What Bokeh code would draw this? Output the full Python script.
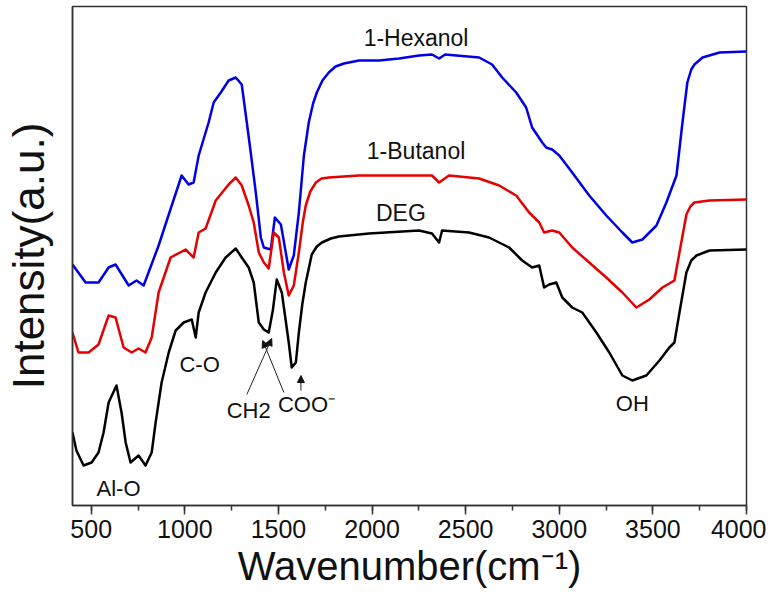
from bokeh.plotting import figure
from bokeh.models import Range1d, SingleIntervalTicker, FixedTicker, Arrow, NormalHead
from bokeh.core.properties import value
from bokeh.embed import file_html
from bokeh.resources import INLINE

# ---- data (wavenumber in cm^-1, intensity in arbitrary units) ----
hex_w = [400, 470, 539, 593, 630, 700, 742, 780, 860, 930, 983, 1020, 1047, 1074, 1127, 1154,
         1192, 1234, 1272, 1304, 1331, 1352, 1379, 1406, 1422, 1459, 1481, 1513, 1555, 1582,
         1609, 1636, 1662, 1685, 1705, 1735, 1769, 1805, 1850, 1930, 2037, 2144, 2251, 2320,
         2358, 2390, 2572, 2641, 2695, 2770, 2823, 2855, 2909, 2930, 2962, 3000, 3069, 3160,
         3251, 3337, 3390, 3444, 3519, 3572, 3626, 3658, 3684, 3705, 3722, 3765, 3856, 4000]
hex_i = [241, 223, 223, 238, 241, 220, 225, 220, 260, 300, 330, 321, 323, 350, 383, 403,
         413, 425, 428, 421, 383, 353, 313, 268, 258, 256, 288, 281, 236, 250,
         293, 350, 383, 402, 413, 425, 433, 439, 442, 445, 445, 447, 450, 451,
         447, 451, 448, 441, 428, 413, 398, 378, 363, 358, 356, 350, 333, 310,
         290, 273, 263, 266, 280, 303, 330, 383, 423, 436, 441, 448, 453, 454]

but_w = [400, 432, 486, 539, 593, 630, 673, 716, 753, 790, 823, 860, 924, 1004, 1047, 1074,
         1111, 1165, 1234, 1272, 1304, 1341, 1368, 1395, 1422, 1448, 1475, 1502, 1529, 1555,
         1582, 1609, 1630, 1646, 1670, 1700, 1730, 1769, 1850, 1930, 2251, 2320, 2358, 2411,
         2572, 2679, 2770, 2839, 2893, 2919, 2962, 3000, 3069, 3160, 3251, 3337, 3412, 3481,
         3551, 3615, 3642, 3679, 3700, 3722, 3802, 4000]
but_i = [173, 153, 153, 161, 190, 188, 158, 153, 157, 153, 168, 213, 248, 256, 248, 273,
         277, 305, 321, 328, 320, 300, 283, 253, 243, 237, 273, 268, 233, 210,
         220, 253, 283, 300, 314, 323, 327, 328, 329, 330, 330, 330, 323, 330,
         327, 320, 310, 293, 283, 273, 275, 273, 258, 243, 228, 213, 198, 206,
         218, 225, 253, 291, 299, 303, 305, 306]

deg_w = [400, 421, 459, 502, 539, 566, 593, 635, 662, 684, 710, 753, 790, 823, 844, 876,
         914, 951, 994, 1037, 1058, 1074, 1111, 1165, 1218, 1272, 1304, 1341, 1368, 1395,
         1422, 1448, 1470, 1491, 1518, 1555, 1571, 1593, 1609, 1628, 1646, 1678, 1705, 1732,
         1780, 1823, 1983, 2251, 2320, 2358, 2374, 2518, 2625, 2732, 2802, 2855, 2893, 2919,
         2946, 2984, 3016, 3069, 3123, 3198, 3267, 3337, 3390, 3465, 3535, 3588, 3615, 3642,
         3679, 3705, 3733, 3802, 4000]
deg_i = [73, 55, 40, 43, 53, 73, 103, 120, 93, 63, 43, 50, 40, 53, 83, 123,
         153, 175, 183, 186, 168, 193, 213, 233, 248, 257, 248, 238, 223, 183,
         176, 173, 195, 226, 213, 163, 138, 143, 173, 202, 223, 251, 259, 263,
         267, 269, 272, 275, 272, 263, 275, 273, 268, 258, 245, 238, 240, 218,
         221, 223, 208, 198, 193, 173, 153, 130, 125, 130, 145, 158, 163, 193,
         233, 245, 250, 255, 256]

# series labels and band annotations
series_names = ["1-Hexanol", "1-Butanol", "DEG"]
series_colors = ["#0000e6", "#e60000", "#000000"]
name_x = [2235, 2235, 2154]
name_y = [468, 355, 293]

band_text = ["C-O", "Al-O", "CH2", "COO\u207b", "OH"]
band_x = [1079, 646, 1341, 1650, 3390]
band_y = [141, 17, 95, 101, 102]

FONT = "Liberation Sans"

p = figure(frame_width=674, frame_height=499, min_border_left=65, min_border_top=6,
           min_border_right=20, min_border_bottom=86,
           x_range=Range1d(400, 4000), y_range=Range1d(0, 499),
           output_backend="svg", toolbar_location=None)

for w, i, c in zip([hex_w, but_w, deg_w], [hex_i, but_i, deg_i], series_colors):
    p.line(w, i, line_color=c, line_width=2.5, line_join="round")

p.text(x=name_x, y=name_y, text=series_names, text_align="center", text_baseline="middle",
       text_font=value(FONT), text_font_size="23px", text_color="#111111")
p.text(x=band_x, y=band_y, text=band_text, text_align="center", text_baseline="middle",
       text_font=value(FONT), text_font_size="22px", text_color="#111111")

# annotation arrows
for (x0, y0, x1, y1) in [(1331, 111, 1464, 167), (1529, 113, 1416, 165), (1620, 115, 1620, 130)]:
    p.add_layout(Arrow(x_start=x0, y_start=y0, x_end=x1, y_end=y1, line_width=1,
                       line_color="#222222",
                       end=NormalHead(size=7, fill_color="#111111", line_color="#111111")))

# axes
p.grid.visible = False
p.outline_line_color = "#333333"
p.outline_line_width = 1.5

xa = p.xaxis[0]
xa.ticker = SingleIntervalTicker(interval=500, num_minor_ticks=2)
xa.axis_label = "Wavenumber(cm\u207b\u00b9)"
xa.axis_label_text_font = FONT
xa.axis_label_text_font_size = "40px"
xa.axis_label_text_font_style = "normal"
xa.axis_label_text_color = "#111111"
xa.axis_label_standoff = 3
xa.major_label_text_font = FONT
xa.major_label_text_font_size = "25px"
xa.major_label_text_color = "#111111"
xa.major_label_standoff = 5
xa.major_tick_in = 0
xa.major_tick_out = 9
xa.minor_tick_in = 0
xa.minor_tick_out = 5
xa.axis_line_width = 1.5
xa.major_tick_line_width = 1.5
xa.minor_tick_line_width = 1.5
xa.axis_line_color = "#333333"
xa.major_tick_line_color = "#333333"
xa.minor_tick_line_color = "#333333"

ya = p.yaxis[0]
ya.ticker = FixedTicker(ticks=[])
ya.major_tick_line_color = None
ya.minor_tick_line_color = None
ya.major_label_text_font_size = "0px"
ya.axis_label = "Intensity(a.u.)"
ya.axis_label_text_font = FONT
ya.axis_label_text_font_size = "44px"
ya.axis_label_text_font_style = "normal"
ya.axis_label_text_color = "#111111"
ya.axis_label_standoff = 20
ya.axis_line_width = 1.5
ya.axis_line_color = "#333333"

open("out.html", "w").write(file_html(p, INLINE))
